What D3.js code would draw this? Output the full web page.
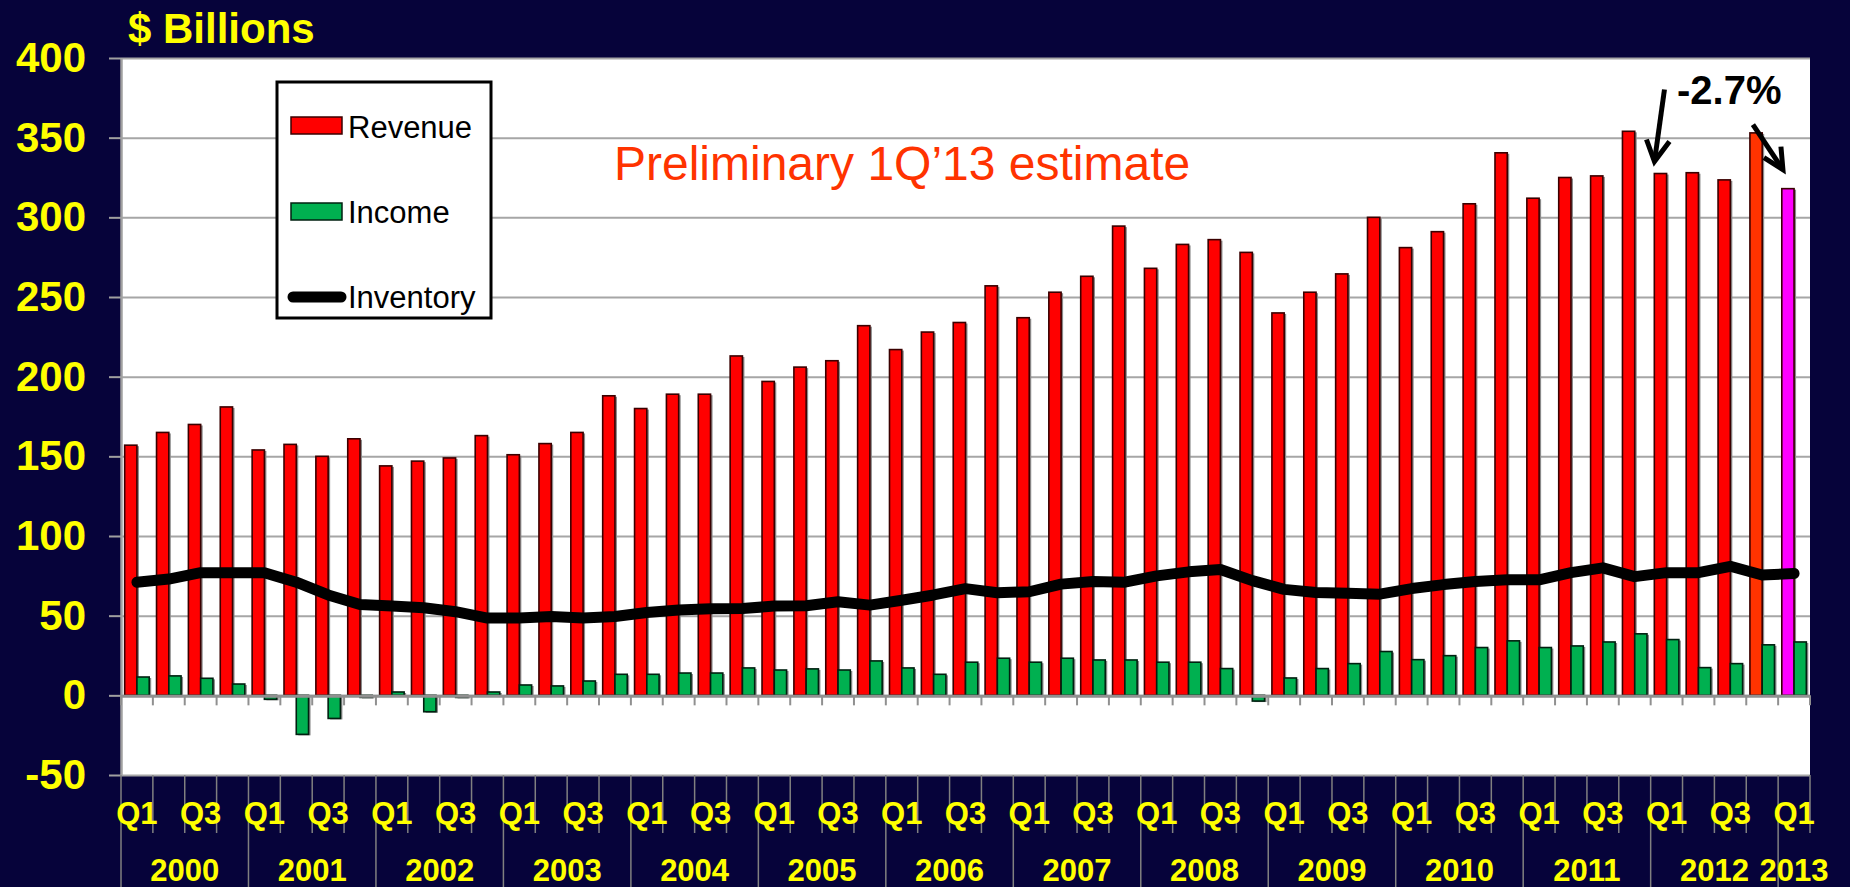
<!DOCTYPE html>
<html>
<head>
<meta charset="utf-8">
<script src="https://cdn.jsdelivr.net/npm/d3@7"></script>
<style>
  html, body { margin: 0; padding: 0; background: #06033a; overflow: hidden; }
  text { font-family: "Liberation Sans", Arial, sans-serif; }
</style>
</head>
<body>
<div id="chart"></div>
<script>
// data ($ billions)
var years = ["2000","2001","2002","2003","2004","2005","2006","2007","2008","2009","2010","2011","2012","2013"];
var quarters = ["Q1","Q2","Q3","Q4"];
var yTicks = [-50, 0, 50, 100, 150, 200, 250, 300, 350, 400];

var revenue = [157,165,170,181, 154,157.5,150,161, 144,147,149,163, 151,158,165,188,
               180,189,189,213, 197,206,210,232, 217,228,234,257, 237,253,263,294.5,
               268,283,286,278, 240,253,264.5,300, 281,291,308.5,340.5, 312,325,326,354,
               327.5,328,323.5,353, 318];
var income = [11.5,12.2,10.7,7.1, -2.5,-24.5,-14.5,-1.3, 2.1,-10.3,-1.3,2.1, 6.5,5.9,9,13.2,
              13.2,14,14,17.2, 15.9,16.6,15.9,21.6, 17.2,13.2,20.8,23.3, 20.8,23.3,22.2,22.2,
              20.8,20.8,16.8,-3.6, 10.9,16.8,19.9,27.5, 22.4,24.9,30,34.2, 30,31,33.5,38.6,
              35,17.4,19.9,31.7, 33.5];
var inventory = [71,73,77,77, 77,71,63,57, 56,55,52.5,48.5, 48.5,49.5,48.5,49.5,
                 52,53.5,54.3,54.5, 56,56.2,58.7,56.6, 59.7,63,67,64.4, 65,69.8,71.5,71,
                 75,77.5,79,72, 66.5,64.5,64,63.5, 67,69.5,71.5,72.5, 72.5,77,80,74.5,
                 77,77,81,75.5, 76.5];
var legendNames = ["Revenue", "Income", "Inventory"];
var changeLabel = "-2.7%";
var noteLabel = "Preliminary 1Q\u201913 estimate";

// categories: every quarter 2000 Q1 .. 2013 Q1
var cats = [];
years.forEach(function(yr) {
  quarters.forEach(function(q) {
    if (yr === "2013" && q !== "Q1") return;
    cats.push({year: yr, q: q, key: yr + q});
  });
});
cats.forEach(function(c, i) {
  c.rev = revenue[i]; c.inc = income[i]; c.inv = inventory[i];
});

var W = 1850, H = 887;
var plot = {left: 121, right: 1810, top: 58, bottom: 775};

var svg = d3.select("#chart").append("svg")
  .attr("width", W).attr("height", H);

svg.append("rect").attr("width", W).attr("height", H).attr("fill", "#06033a");

var x = d3.scaleBand()
  .domain(cats.map(function(d) { return d.key; }))
  .range([plot.left, plot.right]);
var bw = x.bandwidth();
var sub = d3.scaleBand().domain(["rev", "inc"]).range([bw * 0.115, bw * 0.885]);

var y = d3.scaleLinear().domain([-50, 400]).range([plot.bottom, plot.top]);

// plot area
svg.append("rect")
  .attr("x", plot.left).attr("y", plot.top)
  .attr("width", plot.right - plot.left).attr("height", plot.bottom - plot.top)
  .attr("fill", "white");

// gridlines
svg.append("g")
  .attr("transform", "translate(" + plot.left + ",0)")
  .call(d3.axisLeft(y).tickValues(yTicks).tickSize(-(plot.right - plot.left)).tickFormat(""))
  .call(function(g) { g.select(".domain").remove(); })
  .selectAll("line").attr("stroke", "#a6a6a6").attr("stroke-width", 2);

// y axis
var yAxis = svg.append("g")
  .attr("transform", "translate(" + plot.left + ",0)")
  .call(d3.axisLeft(y).tickValues(yTicks).tickSize(12).tickPadding(23).tickSizeOuter(0)
    .tickFormat(function(d) { return String(d); }));
yAxis.select(".domain").attr("stroke", "#a0a0a0").attr("stroke-width", 2.5);
yAxis.selectAll(".tick line").attr("stroke", "#a0a0a0").attr("stroke-width", 2);
yAxis.selectAll(".tick text")
  .attr("fill", "#ffff00").attr("font-size", 42).attr("font-weight", "bold")
  .attr("font-family", "Liberation Sans, Arial, sans-serif");

// title
svg.append("text")
  .attr("x", 128).attr("y", 43)
  .attr("fill", "#ffff00").attr("font-size", 42).attr("font-weight", "bold")
  .text("$ Billions");

// bars
var n = cats.length;
function revColor(i) {
  if (i === n - 1) return "#ff00ff";
  if (i === n - 2) return "#ff3300";
  return "#ff0000";
}
function barRects(g, cls, key, fill, edge) {
  // soft grey shadow on the right side, then the bar itself
  g.selectAll("." + cls + "s")
    .data(cats)
    .join("rect")
      .attr("class", cls + "s")
      .attr("x", function(d) { return x(d.key) + sub(key) + 2; })
      .attr("width", sub.bandwidth())
      .attr("y", function(d) { return y(Math.max(0, d[key])) + 1; })
      .attr("height", function(d) { return Math.abs(y(d[key]) - y(0)); })
      .attr("fill", "#8a8a8a");
  g.selectAll("." + cls)
    .data(cats)
    .join("rect")
      .attr("class", cls)
      .attr("x", function(d) { return x(d.key) + sub(key); })
      .attr("width", sub.bandwidth())
      .attr("y", function(d) { return y(Math.max(0, d[key])); })
      .attr("height", function(d) { return Math.abs(y(d[key]) - y(0)); })
      .attr("fill", fill)
      .attr("stroke", edge).attr("stroke-width", 1.6);
}
var bars = svg.append("g");
barRects(bars, "bar-rev", "rev", function(d, i) { return revColor(i); }, "#3a0000");
barRects(bars, "bar-inc", "inc", "#00b050", "#002010");

// x axis at zero with tick marks on category boundaries
var bounds = d3.range(n + 1).map(function(i) { return plot.left + i * bw; });
svg.append("line")
  .attr("x1", plot.left).attr("x2", plot.right)
  .attr("y1", y(0) + 1).attr("y2", y(0) + 1)
  .attr("stroke", "#909090").attr("stroke-width", 3);
svg.append("g").selectAll("line")
  .data(bounds)
  .join("line")
    .attr("x1", function(d) { return d; }).attr("x2", function(d) { return d; })
    .attr("y1", y(0)).attr("y2", y(0) + 10)
    .attr("stroke", "#909090").attr("stroke-width", 2);

// inventory line
svg.append("path")
  .datum(cats)
  .attr("fill", "none")
  .attr("stroke", "black")
  .attr("stroke-width", 11)
  .attr("stroke-linejoin", "round")
  .attr("stroke-linecap", "round")
  .attr("d", d3.line()
    .x(function(d) { return x(d.key) + bw / 2; })
    .y(function(d) { return y(d.inv); }));

// multi-level category labels below the plot
var lab = svg.append("g");
lab.selectAll(".div")
  .data(bounds)
  .join("line")
    .attr("x1", function(d) { return d; }).attr("x2", function(d) { return d; })
    .attr("y1", plot.bottom)
    .attr("y2", function(d, i) {
      var isYear = i === n || cats[i].q === "Q1";
      return (isYear && i !== n) ? H : 833;
    })
    .attr("stroke", "#808080").attr("stroke-width", 1.5);
lab.selectAll(".ql")
  .data(cats.filter(function(d, i) { return i % 2 === 0; }))
  .join("text")
    .attr("x", function(d) { return x(d.key) + bw / 2; })
    .attr("y", 824)
    .attr("text-anchor", "middle")
    .attr("fill", "#ffff00").attr("font-size", 31).attr("font-weight", "bold")
    .text(function(d) { return d.q; });
lab.selectAll(".yl")
  .data(years)
  .join("text")
    .attr("x", function(yr) {
      var inYear = cats.filter(function(c) { return c.year === yr; });
      var x0 = x(inYear[0].key), x1 = x(inYear[inYear.length - 1].key) + bw;
      return (x0 + x1) / 2;
    })
    .attr("y", 881)
    .attr("text-anchor", "middle")
    .attr("fill", "#ffff00").attr("font-size", 31).attr("font-weight", "bold")
    .text(function(yr) { return yr; });

// legend
var lg = svg.append("g");
lg.append("rect")
  .attr("x", 277).attr("y", 82).attr("width", 214).attr("height", 236)
  .attr("fill", "white").attr("stroke", "black").attr("stroke-width", 3);
lg.append("rect").attr("x", 291).attr("y", 117).attr("width", 51).attr("height", 17)
  .attr("fill", "#ff0000").attr("stroke", "#3a0000").attr("stroke-width", 1.5);
lg.append("rect").attr("x", 291).attr("y", 203).attr("width", 51).attr("height", 17)
  .attr("fill", "#00b050").attr("stroke", "#002010").attr("stroke-width", 1.5);
lg.append("line").attr("x1", 293).attr("x2", 341).attr("y1", 297).attr("y2", 297)
  .attr("stroke", "black").attr("stroke-width", 11).attr("stroke-linecap", "round");
lg.selectAll(".lt")
  .data(legendNames)
  .join("text")
    .attr("x", 348)
    .attr("y", function(d, i) { return 137.5 + i * 85; })
    .attr("fill", "black").attr("font-size", 31)
    .text(function(d) { return d; });

// annotations
svg.append("text")
  .attr("x", 614).attr("y", 180)
  .attr("fill", "#ff3300").attr("font-size", 48)
  .text(noteLabel);

svg.append("text")
  .attr("x", 1677).attr("y", 104)
  .attr("fill", "black").attr("font-size", 40).attr("font-weight", "bold")
  .text(changeLabel);

var tip1 = [x(cats[n - 5].key) + sub("rev") + sub.bandwidth() / 2 - 6, y(revenue[n - 5]) - 12];
var tip2 = [x(cats[n - 1].key) + sub("rev") + sub.bandwidth() / 2 - 5, y(revenue[n - 1]) - 19];
var arrows = svg.append("g")
  .attr("fill", "none").attr("stroke", "black").attr("stroke-width", 5)
  .attr("stroke-linecap", "butt").attr("stroke-linejoin", "miter");
arrows.append("path")
  .attr("d", "M" + (tip1[0] + 10) + "," + (tip1[1] - 72) + "L" + tip1[0] + "," + tip1[1]);
arrows.append("path")
  .attr("d", "M" + (tip1[0] - 8) + "," + (tip1[1] - 22) + "L" + tip1[0] + "," + tip1[1] +
             "L" + (tip1[0] + 15) + "," + (tip1[1] - 20));
arrows.append("path")
  .attr("d", "M" + (tip2[0] - 30) + "," + (tip2[1] - 45) + "L" + tip2[0] + "," + tip2[1]);
arrows.append("path")
  .attr("d", "M" + (tip2[0] - 19) + "," + (tip2[1] - 12) + "L" + tip2[0] + "," + tip2[1] +
             "L" + (tip2[0] - 2) + "," + (tip2[1] - 23));
</script>
</body>
</html>
